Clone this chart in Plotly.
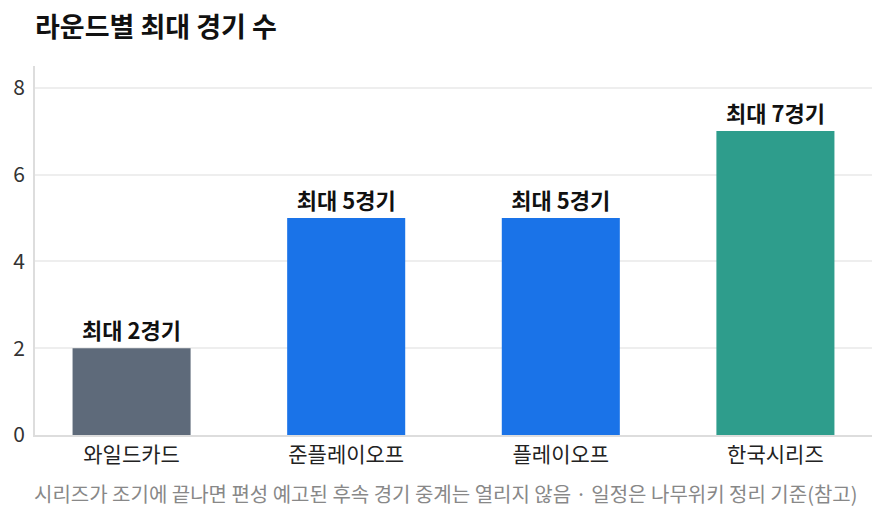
import plotly.graph_objects as go

rondas = ['와일드카드', '준플레이오프', '플레이오프', '한국시리즈']
max_juegos = [2, 5, 5, 7]
colores = ['#5e6a7a', '#1a73e8', '#1a73e8', '#2e9d8c']
etiquetas = ['최대 %d경기' % v for v in max_juegos]

fuente = 'Noto Sans CJK KR'

fig = go.Figure(go.Bar(
    x=rondas, y=max_juegos, width=0.55,
    marker=dict(color=colores, line=dict(width=0)),
    text=etiquetas, textposition='outside', cliponaxis=False,
    textfont=dict(family=fuente, size=22, color='#111111', weight='bold'),
    hoverinfo='skip'
))

fig.update_layout(
    width=886, height=521,
    margin=dict(l=35, r=14, t=66, b=86, autoexpand=False),
    paper_bgcolor='white', plot_bgcolor='white',
    font=dict(family=fuente, size=20, color='#333333'),
    title=dict(text='<b>라운드별 최대 경기 수</b>', x=0.0395, xanchor='left',
               y=0.948, yanchor='middle',
               font=dict(family=fuente, size=27, color='#111111')),
    showlegend=False,
    annotations=[dict(
        text='시리즈가 조기에 끝나면 편성 예고된 후속 경기 중계는 열리지 않음 · 일정은 나무위키 정리 기준(참고)',
        xref='paper', yref='paper', x=-0.003, y=-0.159, xanchor='left', yanchor='middle',
        showarrow=False, font=dict(family=fuente, size=20, color='#888888'))]
)

fig.update_xaxes(range=[-0.45, 3.45], showline=True, linecolor='#dddddd', linewidth=2,
                 ticks='', tickfont=dict(size=21, color='#222222'), showgrid=False)
fig.update_yaxes(range=[0, 8.5], dtick=2, showline=True, linecolor='#dddddd', linewidth=2,
                 gridcolor='#eeeeee', gridwidth=1.5, zeroline=False,
                 tickfont=dict(size=21, color='#333333'), ticklabelstandoff=4)

# quitar el margen del body para que la figura quede en (0, 0)
fig.write_html('out.html', config={'displayModeBar': False},
               post_script="document.body.style.margin='0';")
